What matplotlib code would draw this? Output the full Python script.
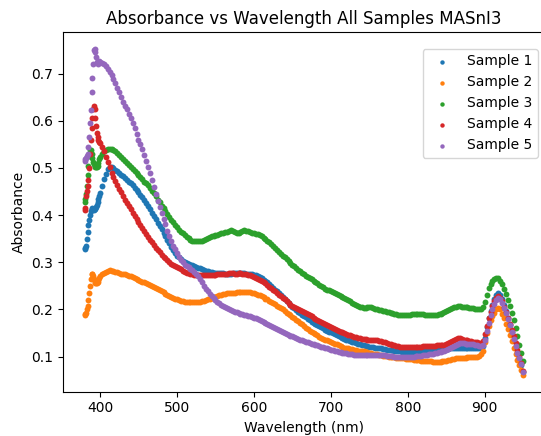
import matplotlib
matplotlib.use("Agg")
import matplotlib.pyplot as plt

# Wavelength sampling: 1 nm steps at the steep onset, 2.5 nm steps afterwards
wl_onset = [380, 381, 382, 383, 384, 385, 386, 387, 388, 389, 390,
            391, 392, 393, 394, 395, 396, 397, 398, 399, 400]
wl_main = [402.5 + 2.5 * i for i in range(220)]
wavelength = wl_onset + wl_main

sample1 = [
    0.330, 0.328, 0.335, 0.350, 0.365, 0.378, 0.390, 0.400, 0.408, 0.413, 0.415,
    0.412, 0.410, 0.412, 0.416, 0.418, 0.422, 0.428, 0.435, 0.441, 0.446,
    0.462, 0.476, 0.488, 0.497, 0.503, 0.502, 0.499, 0.496, 0.493, 0.490,
    0.486, 0.483, 0.479, 0.475, 0.471, 0.467, 0.463, 0.458, 0.453, 0.448,
    0.443, 0.438, 0.432, 0.426, 0.419, 0.412, 0.405, 0.398, 0.391, 0.384,
    0.377, 0.370, 0.362, 0.355, 0.347, 0.340, 0.332, 0.325, 0.319, 0.314,
    0.310, 0.306, 0.303, 0.300, 0.298, 0.297, 0.295, 0.294, 0.292, 0.290,
    0.288, 0.287, 0.285, 0.284, 0.282, 0.281, 0.280, 0.279, 0.278, 0.277,
    0.277, 0.277, 0.277, 0.277, 0.276, 0.276, 0.276, 0.276, 0.277, 0.277,
    0.277, 0.277, 0.277, 0.277, 0.277, 0.276, 0.276, 0.275, 0.274, 0.273,
    0.272, 0.270, 0.268, 0.266, 0.263, 0.260, 0.257, 0.253, 0.250, 0.246,
    0.242, 0.238, 0.234, 0.230, 0.226, 0.222, 0.218, 0.214, 0.210, 0.206,
    0.202, 0.199, 0.195, 0.192, 0.189, 0.186, 0.183, 0.180, 0.177, 0.174,
    0.171, 0.169, 0.166, 0.164, 0.162, 0.160, 0.157, 0.155, 0.153, 0.151,
    0.149, 0.147, 0.145, 0.143, 0.141, 0.140, 0.138, 0.136, 0.134, 0.133,
    0.131, 0.130, 0.128, 0.127, 0.126, 0.125, 0.124, 0.123, 0.122, 0.121,
    0.120, 0.120, 0.119, 0.118, 0.117, 0.117, 0.116, 0.115, 0.114, 0.114,
    0.113, 0.113, 0.112, 0.112, 0.111, 0.111, 0.110, 0.110, 0.110, 0.110,
    0.110, 0.110, 0.110, 0.110, 0.110, 0.110, 0.110, 0.111, 0.111, 0.111,
    0.112, 0.112, 0.112, 0.112, 0.113, 0.113, 0.114, 0.114, 0.115, 0.115,
    0.116, 0.117, 0.118, 0.118, 0.119, 0.119, 0.119, 0.119, 0.118, 0.118,
    0.118, 0.118, 0.117, 0.117, 0.117, 0.117, 0.117, 0.118, 0.123, 0.140,
    0.162, 0.182, 0.197, 0.210, 0.222, 0.230, 0.234, 0.230, 0.222, 0.209,
    0.196, 0.182, 0.167, 0.152, 0.137, 0.122, 0.107, 0.095, 0.083, 0.068,
]

sample2 = [
    0.188, 0.190, 0.193, 0.200, 0.208, 0.220, 0.235, 0.250, 0.265, 0.274, 0.276,
    0.270, 0.264, 0.259, 0.256, 0.255, 0.256, 0.259, 0.263, 0.267, 0.270,
    0.274, 0.277, 0.280, 0.282, 0.283, 0.282, 0.281, 0.280, 0.279, 0.278,
    0.276, 0.275, 0.274, 0.273, 0.271, 0.270, 0.268, 0.267, 0.265, 0.263,
    0.261, 0.259, 0.257, 0.255, 0.253, 0.251, 0.249, 0.247, 0.245, 0.243,
    0.241, 0.239, 0.236, 0.233, 0.230, 0.228, 0.226, 0.224, 0.222, 0.221,
    0.219, 0.218, 0.217, 0.216, 0.215, 0.215, 0.215, 0.215, 0.215, 0.216,
    0.216, 0.216, 0.217, 0.218, 0.220, 0.221, 0.223, 0.224, 0.226, 0.227,
    0.229, 0.230, 0.231, 0.232, 0.233, 0.234, 0.234, 0.234, 0.235, 0.235,
    0.236, 0.236, 0.237, 0.237, 0.237, 0.237, 0.237, 0.236, 0.235, 0.234,
    0.233, 0.231, 0.230, 0.228, 0.226, 0.223, 0.221, 0.218, 0.216, 0.213,
    0.211, 0.208, 0.206, 0.203, 0.200, 0.196, 0.193, 0.190, 0.187, 0.184,
    0.181, 0.178, 0.175, 0.171, 0.168, 0.164, 0.161, 0.158, 0.155, 0.152,
    0.150, 0.147, 0.145, 0.142, 0.140, 0.138, 0.136, 0.134, 0.133, 0.131,
    0.129, 0.127, 0.126, 0.124, 0.122, 0.120, 0.119, 0.118, 0.117, 0.116,
    0.115, 0.114, 0.113, 0.112, 0.112, 0.111, 0.111, 0.110, 0.109, 0.108,
    0.107, 0.106, 0.106, 0.105, 0.104, 0.103, 0.102, 0.101, 0.101, 0.100,
    0.099, 0.098, 0.098, 0.097, 0.097, 0.097, 0.096, 0.096, 0.095, 0.095,
    0.094, 0.094, 0.093, 0.093, 0.092, 0.092, 0.091, 0.091, 0.090, 0.090,
    0.090, 0.090, 0.089, 0.089, 0.089, 0.089, 0.089, 0.090, 0.090, 0.091,
    0.092, 0.093, 0.094, 0.095, 0.096, 0.097, 0.097, 0.097, 0.097, 0.097,
    0.098, 0.098, 0.098, 0.099, 0.099, 0.100, 0.101, 0.105, 0.112, 0.130,
    0.149, 0.165, 0.177, 0.185, 0.193, 0.200, 0.203, 0.200, 0.191, 0.181,
    0.170, 0.158, 0.146, 0.132, 0.118, 0.105, 0.093, 0.082, 0.072, 0.060,
]

sample3 = [
    0.428, 0.435, 0.445, 0.462, 0.485, 0.505, 0.525, 0.537, 0.538, 0.530, 0.520,
    0.512, 0.508, 0.505, 0.503, 0.502, 0.502, 0.505, 0.511, 0.518, 0.524,
    0.530, 0.535, 0.539, 0.541, 0.541, 0.540, 0.538, 0.535, 0.531, 0.527,
    0.523, 0.518, 0.514, 0.510, 0.506, 0.502, 0.498, 0.494, 0.489, 0.485,
    0.480, 0.476, 0.471, 0.467, 0.463, 0.458, 0.452, 0.446, 0.440, 0.433,
    0.427, 0.420, 0.414, 0.408, 0.402, 0.396, 0.390, 0.385, 0.379, 0.374,
    0.369, 0.365, 0.361, 0.357, 0.354, 0.351, 0.348, 0.346, 0.345, 0.344,
    0.344, 0.345, 0.346, 0.348, 0.350, 0.352, 0.354, 0.355, 0.356, 0.357,
    0.358, 0.360, 0.361, 0.362, 0.364, 0.365, 0.367, 0.368, 0.366, 0.364,
    0.362, 0.362, 0.365, 0.367, 0.368, 0.367, 0.366, 0.364, 0.363, 0.362,
    0.360, 0.359, 0.357, 0.355, 0.352, 0.349, 0.346, 0.342, 0.338, 0.334,
    0.330, 0.326, 0.322, 0.318, 0.314, 0.310, 0.306, 0.302, 0.298, 0.295,
    0.291, 0.288, 0.284, 0.281, 0.277, 0.274, 0.271, 0.269, 0.266, 0.264,
    0.261, 0.258, 0.255, 0.252, 0.250, 0.247, 0.244, 0.242, 0.240, 0.238,
    0.236, 0.234, 0.232, 0.230, 0.228, 0.226, 0.224, 0.222, 0.219, 0.217,
    0.214, 0.212, 0.209, 0.207, 0.205, 0.204, 0.203, 0.203, 0.204, 0.205,
    0.204, 0.203, 0.201, 0.200, 0.199, 0.198, 0.197, 0.196, 0.195, 0.194,
    0.193, 0.192, 0.191, 0.190, 0.189, 0.189, 0.188, 0.188, 0.188, 0.189,
    0.189, 0.190, 0.190, 0.190, 0.191, 0.191, 0.190, 0.190, 0.189, 0.189,
    0.189, 0.189, 0.188, 0.188, 0.189, 0.190, 0.191, 0.193, 0.195, 0.197,
    0.199, 0.201, 0.203, 0.205, 0.206, 0.207, 0.207, 0.206, 0.205, 0.204,
    0.204, 0.203, 0.203, 0.202, 0.201, 0.200, 0.200, 0.200, 0.204, 0.215,
    0.231, 0.245, 0.254, 0.260, 0.264, 0.267, 0.266, 0.260, 0.253, 0.244,
    0.232, 0.220, 0.207, 0.192, 0.177, 0.160, 0.143, 0.125, 0.108, 0.090,
]

sample4 = [
    0.410, 0.415, 0.440, 0.452, 0.462, 0.475, 0.500, 0.530, 0.560, 0.585, 0.605,
    0.625, 0.632, 0.625, 0.605, 0.588, 0.575, 0.566, 0.560, 0.556, 0.552,
    0.545, 0.535, 0.523, 0.512, 0.501, 0.490, 0.481, 0.472, 0.464, 0.456,
    0.448, 0.440, 0.433, 0.426, 0.419, 0.412, 0.405, 0.398, 0.391, 0.385,
    0.379, 0.373, 0.366, 0.360, 0.354, 0.348, 0.342, 0.337, 0.331, 0.326,
    0.321, 0.316, 0.312, 0.308, 0.304, 0.300, 0.297, 0.295, 0.292, 0.290,
    0.287, 0.285, 0.282, 0.280, 0.278, 0.277, 0.275, 0.274, 0.273, 0.273,
    0.272, 0.272, 0.272, 0.272, 0.272, 0.272, 0.272, 0.272, 0.273, 0.273,
    0.274, 0.274, 0.275, 0.275, 0.276, 0.276, 0.277, 0.278, 0.277, 0.276,
    0.276, 0.277, 0.277, 0.276, 0.275, 0.274, 0.273, 0.272, 0.270, 0.268,
    0.266, 0.264, 0.262, 0.260, 0.258, 0.255, 0.252, 0.248, 0.245, 0.242,
    0.238, 0.235, 0.231, 0.228, 0.224, 0.221, 0.217, 0.214, 0.210, 0.207,
    0.204, 0.202, 0.200, 0.198, 0.196, 0.194, 0.192, 0.190, 0.187, 0.185,
    0.182, 0.180, 0.177, 0.175, 0.173, 0.171, 0.168, 0.166, 0.164, 0.162,
    0.160, 0.158, 0.156, 0.154, 0.152, 0.151, 0.149, 0.148, 0.146, 0.145,
    0.143, 0.142, 0.141, 0.140, 0.139, 0.138, 0.137, 0.137, 0.136, 0.136,
    0.135, 0.135, 0.134, 0.134, 0.133, 0.132, 0.131, 0.130, 0.128, 0.127,
    0.126, 0.125, 0.124, 0.123, 0.122, 0.121, 0.120, 0.120, 0.120, 0.120,
    0.120, 0.120, 0.120, 0.121, 0.121, 0.121, 0.121, 0.122, 0.122, 0.122,
    0.123, 0.123, 0.123, 0.123, 0.124, 0.124, 0.124, 0.125, 0.125, 0.126,
    0.128, 0.130, 0.133, 0.136, 0.138, 0.140, 0.139, 0.138, 0.136, 0.135,
    0.134, 0.133, 0.132, 0.131, 0.130, 0.130, 0.129, 0.129, 0.133, 0.148,
    0.165, 0.182, 0.195, 0.208, 0.218, 0.225, 0.228, 0.225, 0.217, 0.206,
    0.194, 0.182, 0.169, 0.156, 0.143, 0.128, 0.113, 0.099, 0.087, 0.070,
]

sample5 = [
    0.515, 0.518, 0.522, 0.526, 0.530, 0.545, 0.566, 0.595, 0.622, 0.660, 0.690,
    0.720, 0.750, 0.753, 0.745, 0.735, 0.725, 0.720, 0.722, 0.726, 0.725,
    0.723, 0.720, 0.716, 0.710, 0.704, 0.698, 0.689, 0.680, 0.670, 0.660,
    0.650, 0.640, 0.632, 0.624, 0.614, 0.605, 0.595, 0.585, 0.573, 0.560,
    0.550, 0.540, 0.528, 0.515, 0.503, 0.490, 0.475, 0.460, 0.445, 0.430,
    0.417, 0.405, 0.392, 0.380, 0.367, 0.355, 0.345, 0.335, 0.327, 0.320,
    0.312, 0.305, 0.300, 0.295, 0.292, 0.290, 0.286, 0.283, 0.279, 0.275,
    0.270, 0.265, 0.258, 0.250, 0.244, 0.238, 0.233, 0.228, 0.224, 0.220,
    0.216, 0.213, 0.210, 0.207, 0.204, 0.202, 0.200, 0.198, 0.196, 0.195,
    0.194, 0.193, 0.191, 0.190, 0.189, 0.188, 0.186, 0.185, 0.183, 0.182,
    0.181, 0.180, 0.178, 0.176, 0.174, 0.172, 0.170, 0.167, 0.165, 0.162,
    0.160, 0.158, 0.156, 0.154, 0.152, 0.150, 0.148, 0.146, 0.144, 0.143,
    0.141, 0.140, 0.138, 0.136, 0.134, 0.133, 0.131, 0.130, 0.128, 0.127,
    0.126, 0.125, 0.124, 0.123, 0.121, 0.120, 0.118, 0.117, 0.115, 0.114,
    0.113, 0.112, 0.111, 0.110, 0.109, 0.108, 0.107, 0.107, 0.106, 0.106,
    0.105, 0.104, 0.104, 0.103, 0.103, 0.103, 0.103, 0.103, 0.103, 0.104,
    0.104, 0.104, 0.104, 0.104, 0.104, 0.104, 0.103, 0.103, 0.102, 0.102,
    0.101, 0.101, 0.100, 0.100, 0.100, 0.100, 0.100, 0.100, 0.100, 0.100,
    0.100, 0.100, 0.100, 0.101, 0.101, 0.102, 0.102, 0.103, 0.103, 0.104,
    0.105, 0.106, 0.106, 0.107, 0.108, 0.109, 0.110, 0.111, 0.112, 0.113,
    0.115, 0.117, 0.120, 0.122, 0.125, 0.127, 0.128, 0.128, 0.128, 0.127,
    0.127, 0.127, 0.127, 0.126, 0.125, 0.124, 0.123, 0.122, 0.124, 0.135,
    0.155, 0.172, 0.187, 0.200, 0.212, 0.220, 0.224, 0.222, 0.214, 0.203,
    0.192, 0.180, 0.167, 0.152, 0.137, 0.122, 0.108, 0.096, 0.084, 0.068,
]

series = [sample1, sample2, sample3, sample4, sample5]
labels = ["Sample 1", "Sample 2", "Sample 3", "Sample 4", "Sample 5"]

fig = plt.figure(figsize=(5.41, 4.36), dpi=100)
ax = fig.add_axes([62.7 / 541, 44.3 / 436, 482.5 / 541, 359.4 / 436])
for vals, lab in zip(series, labels):
    ax.scatter(wavelength, vals, s=18, linewidths=0, label=lab)

ax.set_title("Absorbance vs Wavelength All Samples MASnI3")
ax.set_xlabel("Wavelength (nm)")
ax.set_ylabel("Absorbance")
ax.legend(loc="upper right", bbox_to_anchor=(0.985, 0.954), borderaxespad=0,
          markerscale=0.75)
fig.savefig("out.png", dpi=100)
